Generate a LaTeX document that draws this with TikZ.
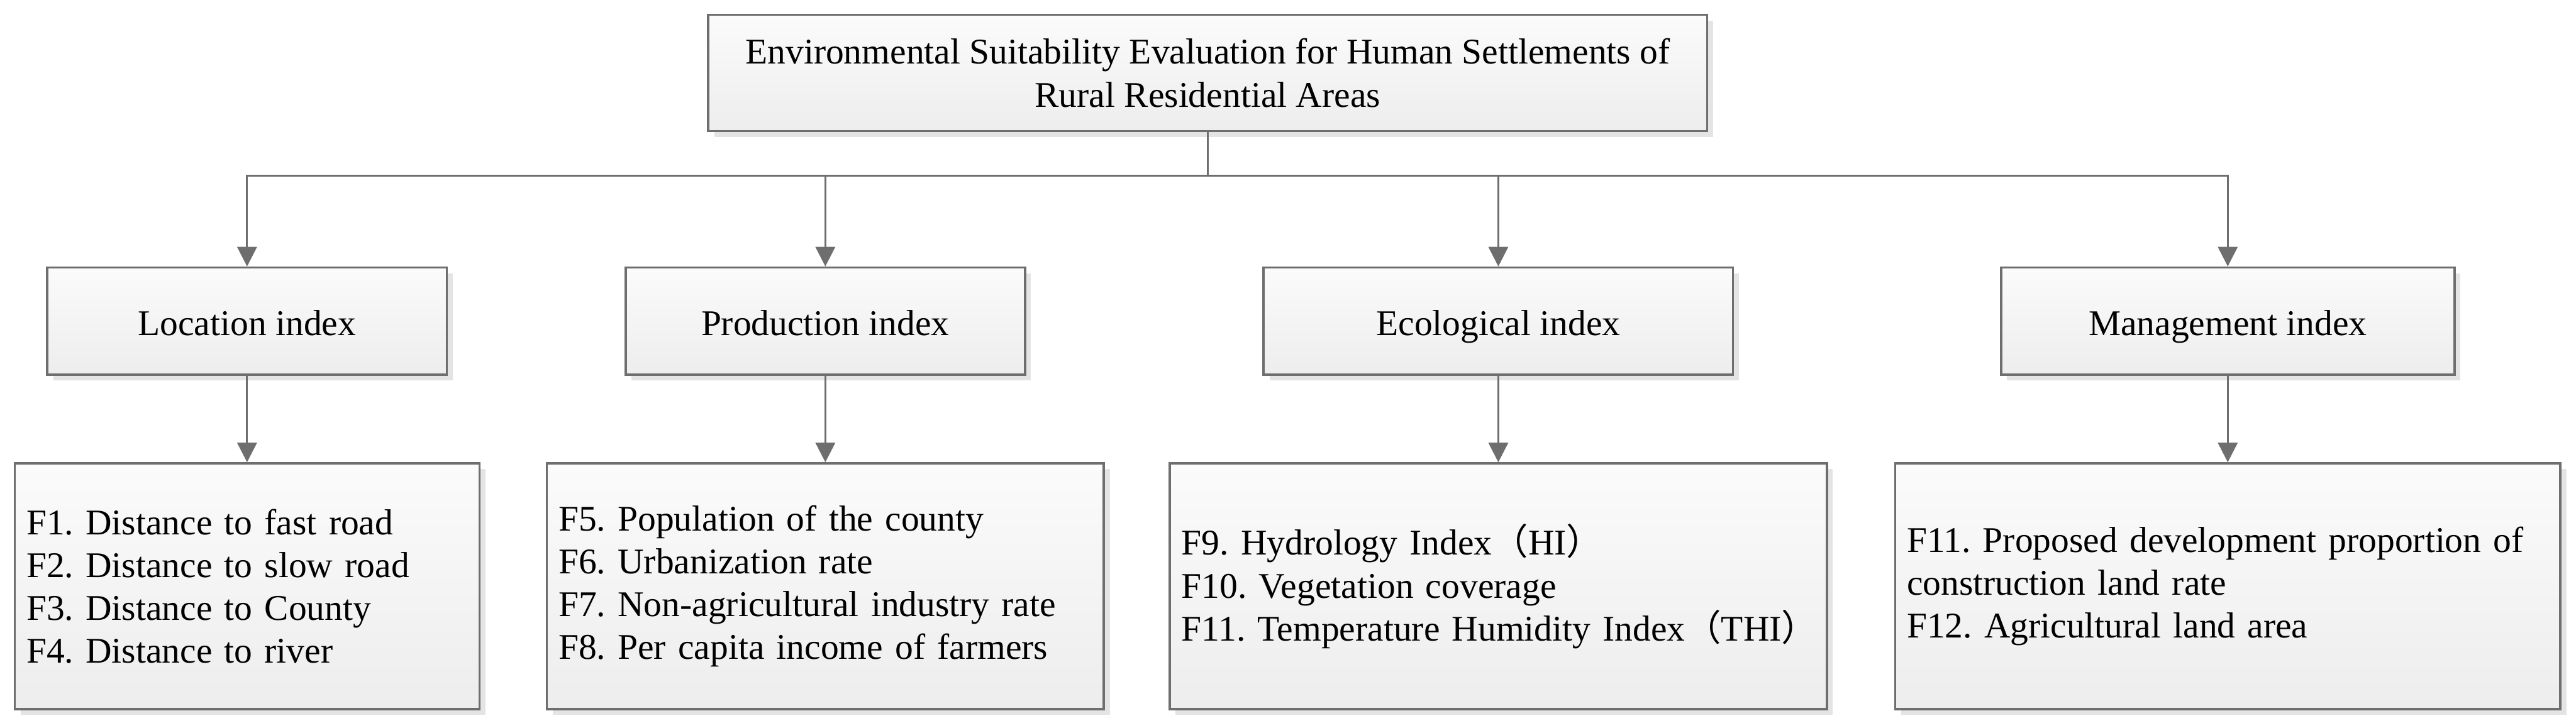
\documentclass[tikz,border=0pt]{standalone}
\usepackage{fontspec}
\setmainfont{Liberation Serif}
\newfontfamily\cjk{Noto Sans CJK SC}
\usetikzlibrary{positioning,arrows.meta,calc,shadows}
\definecolor{edgegrey}{HTML}{6E6E6E}
\definecolor{boxtop}{HTML}{FBFBFB}
\definecolor{boxbottom}{HTML}{EDEDED}
\definecolor{shadowgrey}{HTML}{E4E4E4}
\frenchspacing

\begin{document}
\begin{tikzpicture}[x=1cm,y=1cm,
  box/.style={draw=edgegrey, line width=1.1pt, top color=boxtop, bottom color=boxbottom,
    drop shadow={shadow xshift=0.1cm, shadow yshift=-0.1cm, fill=shadowgrey, opacity=1},
    font=\fontsize{17.5}{20.7}\selectfont},
  indexbox/.style={box, minimum height=1.82cm, text height=16.6pt, text depth=2.8pt},
  factorbox/.style={box, minimum height=4.18cm, align=left, inner xsep=0.2cm},
  arr/.style={draw=edgegrey, line width=0.9pt, -{Triangle[length=9.5pt,width=9.5pt]}}]
\useasboundingbox (0,0) rectangle (43.79,-12.37);

% goal
\node[box, minimum width=16.98cm, minimum height=1.98cm, align=center] (goal) at (20.53,-1.24)
  {Environmental Suitability Evaluation for Human Settlements of\\Rural Residential Areas};

% indices
\node[indexbox, minimum width=6.79cm] (loc) at (4.20,-5.46) {Location index};
\node[indexbox, minimum width=6.79cm] (prod) at (14.03,-5.46) {Production index};
\node[indexbox, minimum width=7.98cm] (eco) at (25.47,-5.46) {Ecological index};
\node[indexbox, minimum width=7.71cm] (man) at (37.87,-5.46) {Management index};

% factors
\node[factorbox, text width=7.50cm] (loc-f) at (4.20,-9.97)
  {F1. Distance to fast road\\F2. Distance to slow road\\F3. Distance to County\\F4. Distance to river};
\node[factorbox, text width=9.07cm] (prod-f) at (14.03,-9.97)
  {F5. Population of the county\\F6. Urbanization rate\\F7. Non-agricultural industry rate\\F8. Per capita income of farmers};
\node[factorbox, text width=10.77cm] (eco-f) at (25.47,-9.97)
  {\mbox{F9. Hydrology Index{\cjk （}HI{\cjk ）}}\\F10. Vegetation coverage\\\mbox{F11. Temperature Humidity Index{\cjk （}THI{\cjk ）}}};
\node[factorbox, text width=10.91cm] (man-f) at (37.87,-9.97)
  {F11. Proposed development proportion of\\construction land rate\\F12. Agricultural land area};

% connectors
\coordinate (junc) at (20.53,-2.99);
\foreach \c in {loc,prod,eco,man}
  \draw[arr] (goal.south) -- (goal.south |- junc) -| (\c.north);
\foreach \c in {loc,prod,eco,man}
  \draw[arr] (\c.south) -- (\c-f.north);
\end{tikzpicture}
\end{document}
